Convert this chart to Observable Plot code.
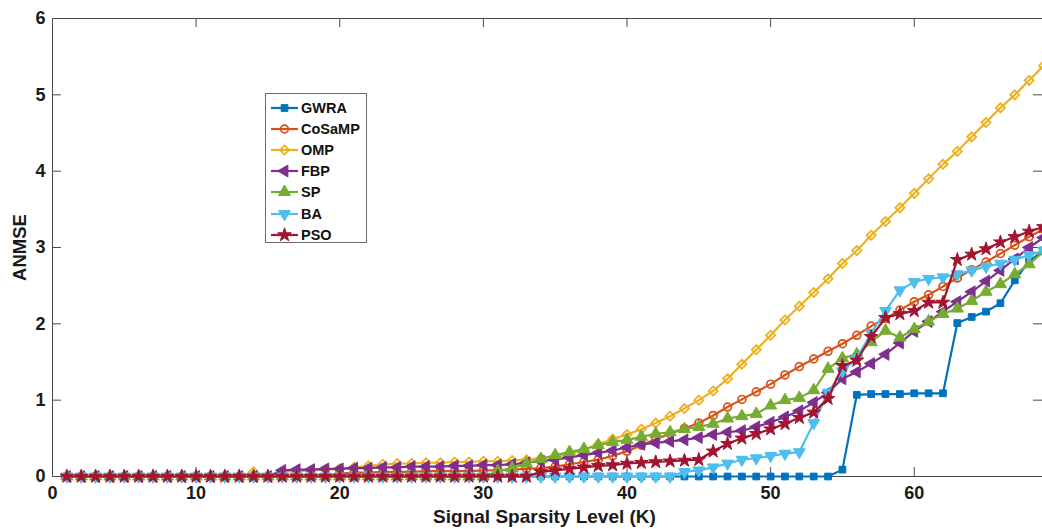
<!DOCTYPE html>
<html><head><meta charset="utf-8">
<script src="https://cdn.jsdelivr.net/npm/d3@7"></script>
<script src="https://cdn.jsdelivr.net/npm/@observablehq/plot@0.6"></script>
<style>
html,body{margin:0;padding:0;background:#fff;overflow:hidden;}
#wrap{position:relative;width:1042px;height:529px;overflow:hidden;}
#legend{position:absolute;left:265px;top:93px;width:100px;height:148px;border:1px solid #6a6a6a;background:#fff;
  font:bold 14.5px "Liberation Sans",Arial,sans-serif;color:#111;}
.row{position:absolute;left:0;height:20px;width:100px;}
.row svg{position:absolute;left:0;top:0;}
.row span{position:absolute;left:35px;top:2px;line-height:16px;}
</style></head><body><div id="wrap"><div id="legend"></div></div>
<script>
// Signal sparsity level K
const K = [1,2,3,4,5,6,7,8,9,10,11,12,13,14,15,16,17,18,19,20,21,22,23,24,25,26,27,28,29,30,31,32,33,34,35,36,37,38,39,40,41,42,43,44,45,46,47,48,49,50,51,52,53,54,55,56,57,58,59,60,61,62,63,64,65,66,67,68,69];

const GWRA = [0,0,0,0,0,0,0,0,0,0, 0,0,0,0,0,0,0,0,0,0, 0,0,0,0,0,0,0,0,0,0, 0,0,0,0,0,0,0,0,0,0, 0,0,0,0,0,0,0,0,0,0, 0,0,0,0,
  0.09,1.07,1.08,1.08,1.08,1.09,1.09,1.09,2.01,2.09,2.16,2.27,2.57,2.82,2.96];
const CoSaMP = [0,0,0,0,0,0,0,0,0,0, 0,0,0,0,0,0,0,0,0,
  0.04,0.05,0.05,0.06,0.06,0.06,0.07,0.07,0.07,0.07,0.08,0.08,0.09,0.10,0.11,0.13,0.16,0.19,0.22,0.27,
  0.33,0.41,0.49,0.56,0.63,0.70,0.80,0.91,1.01,1.11,1.21,1.33,1.44,1.54,1.64,1.74,1.85,1.97,2.07,2.18,
  2.29,2.38,2.49,2.60,2.71,2.81,2.92,3.03,3.14,3.24];
const OMP = [0,0,0,0,0,0,0,0,0,0, 0,0,0,
  0.06,0.01,0.06,0.07,0.08,0.09,0.10,0.12,0.14,0.16,0.17,0.17,0.18,0.18,0.19,0.19,0.20,0.20,0.21,0.22,
  0.24,0.26,0.29,0.35,0.42,0.49,0.55,0.62,0.70,0.79,0.89,1.00,1.12,1.28,1.47,1.66,1.85,2.05,2.23,2.41,
  2.59,2.79,2.96,3.16,3.34,3.52,3.71,3.90,4.09,4.26,4.45,4.64,4.83,5.00,5.19,5.38];
const FBP = [0,0,0,0,0,0,0,0,0,0, 0,0,0,0,0,
  0.08,0.09,0.09,0.10,0.10,0.11,0.11,0.12,0.12,0.13,0.13,0.13,0.14,0.14,0.15,0.15,0.16,0.18,0.20,0.22,
  0.25,0.28,0.31,0.34,0.38,0.42,0.44,0.46,0.48,0.51,0.55,0.58,0.60,0.65,0.71,0.78,0.86,0.97,1.10,1.28,
  1.37,1.48,1.60,1.75,1.90,2.03,2.16,2.29,2.42,2.56,2.70,2.85,3.00,3.13];
const SP = [0,0,0,0,0,0,0,0,0,0, 0,0,0,0,0,0,0,0,0,0, 0,0,0,0,0,0,0,0,0,0,
  0.07,0.11,0.17,0.23,0.28,0.32,0.36,0.41,0.45,0.48,0.52,0.56,0.58,0.62,0.65,0.69,0.76,0.79,0.82,0.93,
  1.00,1.03,1.13,1.41,1.55,1.60,1.76,1.91,1.82,1.93,2.03,2.13,2.20,2.30,2.42,2.52,2.65,2.78,2.95];
const BA = [0,0,0,0,0,0,0,0,0,0, 0,0,0,0,0,0,0,0,0,0, 0,0,0,0,0,0,0,0,0,0, 0,0,0,0,0,0,0,0,0,0, 0,0,0,
  0.06,0.08,0.12,0.17,0.22,0.24,0.27,0.30,0.32,0.70,1.10,1.38,1.55,1.88,2.17,2.44,2.55,2.59,2.61,2.65,
  2.70,2.75,2.79,2.84,2.90,2.96];
const PSO = [0,0,0,0,0,0,0,0,0,0, 0,0,0,0,0,0,0,0,0,0, 0,0,0,0,0,0,0,0,0,0, 0,0,0,
  0.06,0.08,0.10,0.12,0.14,0.15,0.17,0.18,0.19,0.20,0.21,0.22,0.33,0.43,0.50,0.56,0.62,0.69,0.77,0.84,
  1.02,1.45,1.52,1.83,2.08,2.13,2.17,2.28,2.28,2.84,2.91,2.98,3.07,3.14,3.21,3.27];

const names = ["GWRA","CoSaMP","OMP","FBP","SP","BA","PSO"];
const colors = ["#0072BD","#D95319","#EDB120","#7E2F8E","#77AC30","#4DBEEE","#A2142F"];
const xTicks = [0,10,20,30,40,50,60];
const yTicks = [0,1,2,3,4,5,6];
const xLabel = "Signal Sparsity Level (K)";
const yLabel = "ANMSE";

// custom triangle symbols (MATLAB '<', '^', 'v')
function tri(angle) {
  return {draw(ctx, size) {
    const R = Math.sqrt(size / Math.PI);
    for (let i = 0; i < 3; i++) {
      const a = angle + i * 2 * Math.PI / 3;
      const px = R * Math.cos(a), py = R * Math.sin(a);
      if (i === 0) ctx.moveTo(px, py); else ctx.lineTo(px, py);
    }
    ctx.closePath();
  }};
}
const triLeft = tri(Math.PI), triUp = tri(-Math.PI / 2), triDown = tri(Math.PI / 2);

const series = [
  {values: GWRA,   symbol: d3.symbolSquare,   r: 3.8, filled: true,  sw: 1},
  {values: CoSaMP, symbol: d3.symbolCircle,   r: 3.9, filled: false, sw: 1.7},
  {values: OMP,    symbol: d3.symbolDiamond2, r: 4.1, filled: false, sw: 1.8},
  {values: FBP,    symbol: triLeft,           r: 6.8, filled: true,  sw: 1},
  {values: SP,     symbol: triUp,             r: 7.0, filled: true,  sw: 1},
  {values: BA,     symbol: triDown,           r: 6.8, filled: true,  sw: 1},
  {values: PSO,    symbol: d3.symbolStar,     r: 4.3, filled: true,  sw: 1}
].map((s, i) => ({...s, name: names[i], color: colors[i]}));

const axisColor = "#4a4a4a";
const frameW = 1042 - 52, frameH = 476 - 18, tickLen = 9;

const marks = [
  Plot.ruleY([6], {stroke: axisColor, strokeWidth: 1}),
  Plot.ruleY([0], {stroke: axisColor, strokeWidth: 1}),
  Plot.ruleX([0], {stroke: axisColor, strokeWidth: 1}),
  Plot.ruleX(xTicks, {stroke: axisColor, insetTop: frameH - tickLen}),
  Plot.ruleX(xTicks, {stroke: axisColor, insetBottom: frameH - tickLen}),
  Plot.ruleY(yTicks, {stroke: axisColor, insetRight: frameW - tickLen}),
  Plot.ruleY(yTicks, {stroke: axisColor, insetLeft: frameW - tickLen}),
  Plot.axisX({ticks: xTicks, tickFormat: d3.format("d"), tickSize: 0, tickPadding: 10, label: null, fontSize: 18, fontWeight: "bold", fill: "#1a1a1a"}),
  Plot.axisY({ticks: yTicks, tickFormat: d3.format("d"), tickSize: 0, tickPadding: 7, label: null, fontSize: 18, fontWeight: "bold", fill: "#1a1a1a"}),
  Plot.text([xLabel], {text: d => d, frameAnchor: "bottom", lineAnchor: "middle", textAnchor: "middle", dy: 40.5, dx: -3, fontSize: 19, fontWeight: "bold", fill: "#1a1a1a"}),
  Plot.text([yLabel], {text: d => d, frameAnchor: "left", textAnchor: "middle", lineAnchor: "middle", rotate: -90, dx: -32, fontSize: 18.5, fontWeight: "bold", fill: "#1a1a1a"})
];
for (const s of series) {
  marks.push(Plot.line(K, {x: d => d, y: s.values, stroke: s.color, strokeWidth: 2.2}));
  marks.push(Plot.dot(K, {x: d => d, y: s.values, symbol: s.symbol, r: s.r,
    stroke: s.color, strokeWidth: s.sw, fill: s.filled ? s.color : "none"}));
}

const chart = Plot.plot({
  width: 1042, height: 529,
  marginLeft: 52, marginRight: 0, marginTop: 18, marginBottom: 53,
  x: {domain: [0, 68.93]},
  y: {domain: [0, 6]},
  style: {fontFamily: "'Liberation Sans', Arial, sans-serif", fontWeight: "bold", background: "white", color: "#1a1a1a"},
  marks
});
const wrap = document.getElementById("wrap");
wrap.insertBefore(chart, wrap.firstChild);

// legend
const legend = d3.select("#legend");
series.forEach((s, i) => {
  const row = legend.append("div").attr("class", "row").style("top", (4 + i * 21.1) + "px");
  const svg = row.append("svg").attr("width", 34).attr("height", 20);
  svg.append("line").attr("x1", 5).attr("x2", 32).attr("y1", 10).attr("y2", 10)
    .attr("stroke", s.color).attr("stroke-width", 2.2);
  svg.append("path").attr("transform", "translate(18.5,10)")
    .attr("d", d3.symbol(s.symbol, Math.PI * s.r * s.r)())
    .attr("fill", s.filled ? s.color : "none").attr("stroke", s.color).attr("stroke-width", s.sw);
  row.append("span").text(s.name);
});
</script>
</body></html>
